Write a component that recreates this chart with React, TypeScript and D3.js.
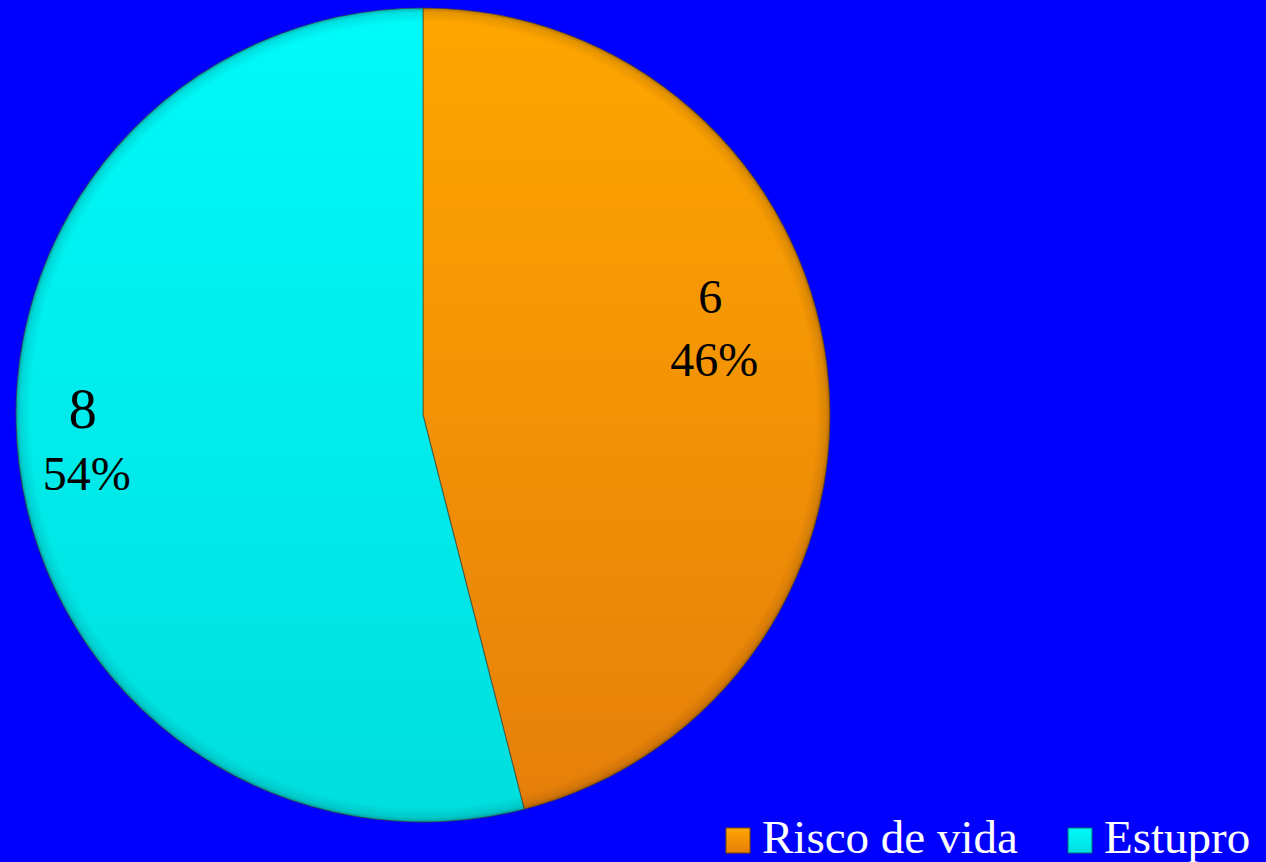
import React from 'react'
import * as d3 from 'd3'

const categories = ['Risco de vida', 'Estupro']
const counts = [6, 8]
const percents = [46, 54]
const colors = ['#ffa600', '#00fafa']
const darkColors = ['#e67f0a', '#00dede']
// small hand nudges to place data labels like the original
const labelNudge = [[-45, -30], [0, 0]]
const countSize = [48, 56]

const width = 1266
const height = 862
const serif = '"Liberation Serif", "Times New Roman", serif'

export default function App () {
  const cx = 423
  const cy = 415
  const r = 407

  const pie = d3.pie<number>().sort(null).value(d => d)
  const arcs = pie(percents)
  const arc = d3.arc<d3.PieArcDatum<number>>().innerRadius(0).outerRadius(r)
  const labelArc = d3.arc<d3.PieArcDatum<number>>().innerRadius(339).outerRadius(339)

  const legendX = [726, 1068]

  return (
    <svg width={width} height={height} style={{ position: 'absolute', left: 0, top: 0, background: '#0000ff' }}>
      <defs>
        {categories.map((c, i) => (
          <linearGradient key={c} id={'g' + i} x1='0' y1='0' x2='0' y2='1'>
            <stop offset='0%' stopColor={colors[i]} />
            <stop offset='100%' stopColor={darkColors[i]} />
          </linearGradient>
        ))}
        <radialGradient id='bevel' cx='0.5' cy='0.5' r='0.5'>
          <stop offset='96.5%' stopColor='#000' stopOpacity={0} />
          <stop offset='99%' stopColor='#000' stopOpacity={0.1} />
          <stop offset='100%' stopColor='#000' stopOpacity={0.28} />
        </radialGradient>
      </defs>
      <rect width={width} height={height} fill='#0000ff' />
      <g transform={`translate(${cx},${cy})`}>
        {arcs.map((a, i) => (
          <path key={categories[i]} d={arc(a) || ''} fill={`url(#g${i})`} stroke='#4a4020' strokeOpacity={0.55} strokeWidth={1.2} />
        ))}
        <circle r={r} fill='url(#bevel)' />
        {arcs.map((a, i) => {
          const [x0, y0] = labelArc.centroid(a)
          const x = x0 + labelNudge[i][0]
          const y = y0 + labelNudge[i][1]
          return (
            <text key={'l' + i} fontFamily={serif} fontSize={48} fill='#000' textAnchor='middle'>
              <tspan x={x - 4} y={y - 30} fontSize={countSize[i]}>{counts[i]}</tspan>
              <tspan x={x} y={y + 33}>{percents[i]}%</tspan>
            </text>
          )
        })}
      </g>
      <g fontFamily={serif} fontSize={47} fill='#fff'>
        {categories.map((c, i) => (
          <g key={c}>
            <rect x={legendX[i]} y={828} width={24} height={25} fill={`url(#g${i})`} stroke={i === 0 ? '#7a4a00' : '#007070'} strokeWidth={1} />
            <text x={legendX[i] + 36} y={853}>{c}</text>
          </g>
        ))}
      </g>
    </svg>
  )
}
